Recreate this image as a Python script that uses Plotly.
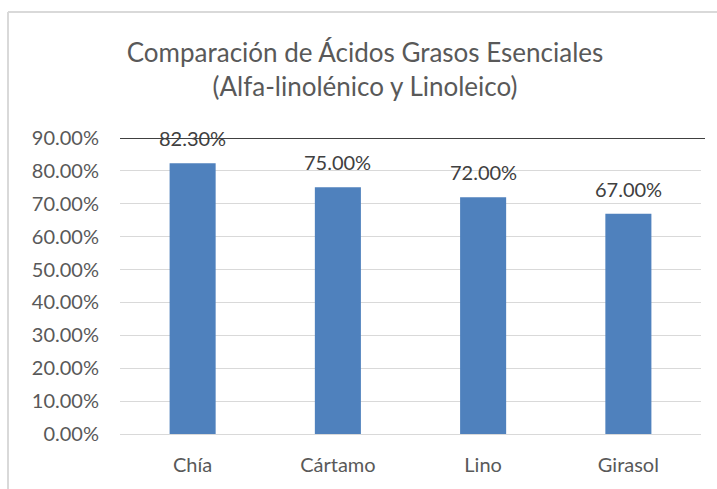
import plotly.graph_objects as go

categories = ["Chía", "Cártamo", "Lino", "Girasol"]
values = [0.823, 0.75, 0.72, 0.67]
value_labels = ["82.30%", "75.00%", "72.00%", "67.00%"]
title_lines = ["Comparación de Ácidos Grasos Esenciales", "(Alfa-linolénico y Linoleico)"]

FONT = "Lato"
W, H = 717, 489
L, R, T, B = 120, 16, 138, 55
pw, ph = W - L - R, H - T - B

fig = go.Figure()
fig.add_trace(go.Bar(
    x=categories, y=values,
    marker=dict(color="#4F81BD", line=dict(width=0)),
    hoverinfo="x+y",
))

annotations = []
for c, v, lab in zip(categories, values, value_labels):
    annotations.append(dict(
        x=c, y=v, xref="x", yref="y", text=lab, showarrow=False,
        yanchor="bottom", yshift=11,
        font=dict(family=FONT, size=20, color="#404040"),
    ))

def px_x(p):
    return (p - L) / pw

def px_y(p):
    return (H - B - p) / ph

shapes = [
    # chart border (light grey): left and top edges only visible
    dict(type="line", xref="paper", yref="paper",
         x0=px_x(8), x1=px_x(8), y0=px_y(489), y1=px_y(12),
         line=dict(color="#D9D9D9", width=2), layer="below"),
    dict(type="line", xref="paper", yref="paper",
         x0=px_x(8), x1=px_x(717), y0=px_y(12), y1=px_y(12),
         line=dict(color="#D9D9D9", width=2), layer="below"),
    # dark line at the top of the value axis
    dict(type="line", xref="paper", yref="y",
         x0=0, x1=px_x(705), y0=0.9, y1=0.9,
         line=dict(color="#404040", width=2), layer="below"),
]

fig.update_layout(
    width=W, height=H,
    margin=dict(l=L, r=R, t=T, b=B, autoexpand=False),
    paper_bgcolor="white", plot_bgcolor="white",
    bargap=0.683,
    showlegend=False,
    title=dict(
        text="<br>".join(title_lines),
        x=px_x(365), xref="paper", xanchor="center",
        y=1 - 62 / H, yref="container", yanchor="middle",
        font=dict(family=FONT, size=26, color="#595959"),
    ),
    xaxis=dict(
        showline=False, showgrid=False, zeroline=False, ticks="",
        tickfont=dict(family=FONT, size=20, color="#595959"),
        ticklabelstandoff=17,
    ),
    yaxis=dict(
        range=[0, 0.9], dtick=0.1, tickformat=".2%",
        showgrid=True, gridcolor="#D9D9D9", gridwidth=1,
        zeroline=True, zerolinecolor="#D9D9D9", zerolinewidth=1,
        showline=False, ticks="",
        tickfont=dict(family=FONT, size=20, color="#595959"),
        ticklabelstandoff=20,
    ),
    annotations=annotations,
    shapes=shapes,
)

fig.write_html("out.html")
